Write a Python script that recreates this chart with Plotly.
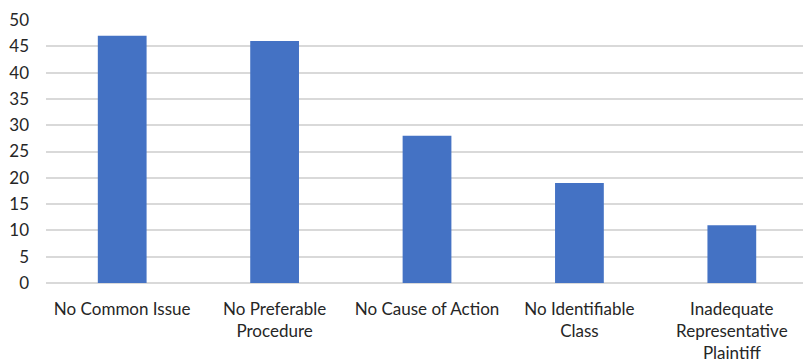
import plotly.graph_objects as go

categories = [
    "No Common Issue",
    "No Preferable<br>Procedure",
    "No Cause of Action",
    "No Identifiable<br>Class",
    "Inadequate<br>Representative<br>Plaintiff",
]
counts = [47, 46, 28, 19, 11]
y_ticks = [0, 5, 10, 15, 20, 25, 30, 35, 40, 45, 50]

fig = go.Figure(
    go.Bar(
        x=list(range(len(categories))),
        y=counts,
        marker=dict(color="#4472C4", line=dict(width=0)),
        width=0.32,
    )
)

fig.update_layout(
    width=803,
    height=364,
    margin=dict(l=46, r=0, t=20, b=81),
    paper_bgcolor="white",
    plot_bgcolor="white",
    font=dict(family="Lato, 'Open Sans', sans-serif", size=17, color="#262626"),
    showlegend=False,
)

fig.update_xaxes(
    tickmode="array",
    tickvals=list(range(len(categories))),
    ticktext=categories,
    range=[-0.5, 4.467],
    showgrid=False,
    showline=False,
    zeroline=False,
    ticks="",
    ticklabelstandoff=14,
)

fig.update_yaxes(
    range=[0, 50],
    tickmode="array",
    tickvals=y_ticks,
    showgrid=True,
    gridcolor="#d9d9d9",
    gridwidth=1.5,
    zeroline=True,
    zerolinecolor="#d9d9d9",
    zerolinewidth=1.5,
    showline=False,
    ticks="",
    ticklabelstandoff=16,
)

fig.write_html("out.html")
